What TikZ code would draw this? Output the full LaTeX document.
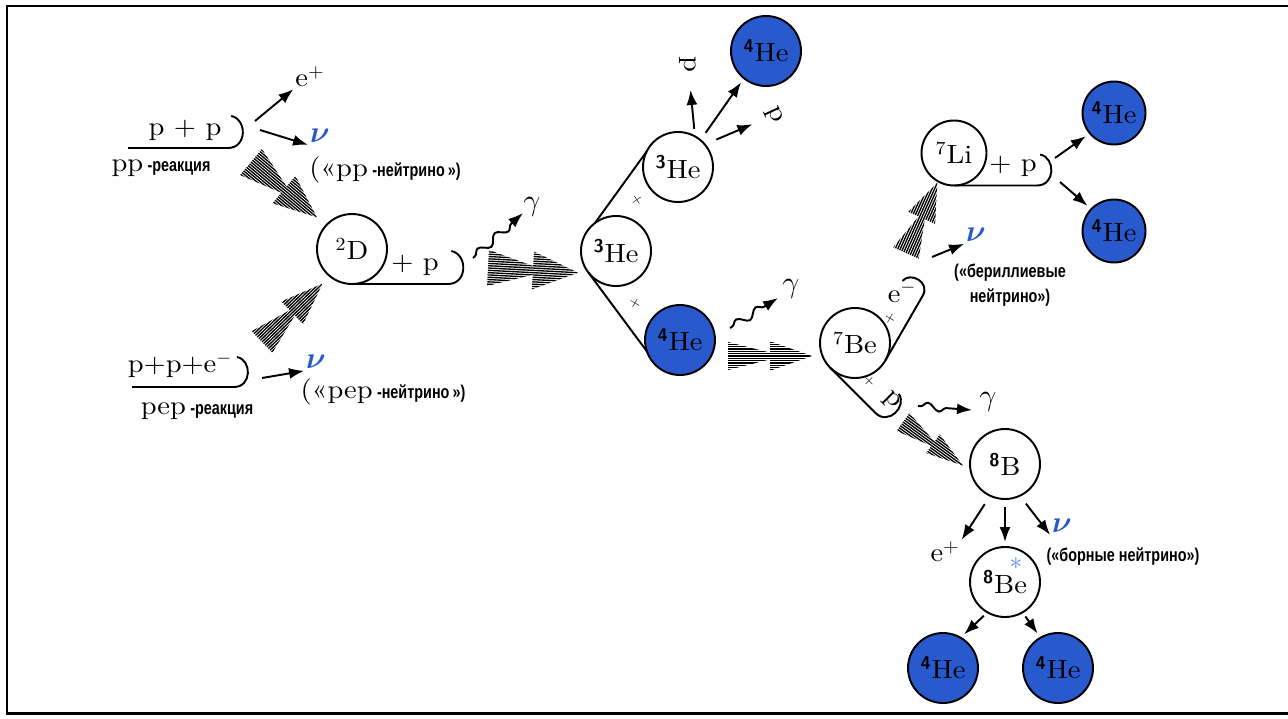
\documentclass[tikz,border=0pt]{standalone}
\usepackage{fontspec}
\usepackage{amsmath}
\setmainfont{lmroman10-regular.otf}[BoldFont=lmroman10-bold.otf,FakeStretch=1.08]
\usetikzlibrary{arrows.meta,decorations.pathmorphing}
\newfontfamily\rusfont[FakeStretch=0.78]{Liberation Sans}
\definecolor{heblue}{RGB}{40,90,205}
\definecolor{starblue}{RGB}{90,140,230}
\newcommand\rsmall{\fontsize{10.5}{14}\selectfont\rusfont\bfseries}
\newcommand\iso[2]{\textsuperscript{#1}#2}
\newcommand\isos[2]{\textsuperscript{\sffamily\bfseries #1}#2}
\newcommand\nub{{\fontsize{18}{18}\selectfont\textcolor{heblue}{$\boldsymbol{\nu}$}}}
\newcommand\gam{{\fontsize{17}{17}\selectfont$\gamma$}}
% hatched double arrow: start, angle, length, half width
\newcommand\hatcharrow[4]{%
  \begin{scope}[shift={#1},rotate=#2]
    \clip (0,-#4) -- (0.66*#3,0) -- (0,#4) -- cycle
          (0.5*#3,-1.05*#4) -- (#3,0) -- (0.5*#3,1.05*#4) -- cycle;
    \foreach \k in {-12,...,12}
      \draw[hatch] (0,\k*2.3) -- (#3,\k*2.3);
  \end{scope}}
% line with a hook at its end: start, angle, length, hook height
\newcommand\hookline[4]{%
  \begin{scope}[shift={#1},rotate=#2]
    \draw[hookln] (0,0) -- (#3,0) .. controls (#3+0.6*#4,0) and (#3+0.6*#4,-0.9*#4) .. (#3+0.1*#4,-#4);
  \end{scope}}
\tikzset{
  nuc/.style={circle,draw,line width=1.1pt,minimum size=14mm,inner sep=0pt,outer sep=0pt,
    font=\fontsize{15}{17}\selectfont},
  he/.style={nuc,fill=heblue},
  txt/.style={inner sep=1pt,font=\fontsize{15}{17}\selectfont},
  rus/.style={inner sep=1pt,font=\rsmall},
  plusmark/.style={inner sep=0pt,font=\fontsize{8}{9}\selectfont},
  arr/.style={-{Latex[length=3mm,width=2.2mm]},line width=1.1pt},
  wave/.style={arr,decorate,decoration={snake,amplitude=.8mm,segment length=4.6mm,
    pre length=.5mm,post length=3mm}},
  hatch/.style={line width=.75pt},
  hookln/.style={line width=1.1pt},
  frameline/.style={line width=1.7pt}
}
\begin{document}
\begin{tikzpicture}[x=0.2mm,y=-0.2mm]
\useasboundingbox (0,0) rectangle (1288,718);
\draw[frameline] (1290,6) -- (7,6) -- (7,713) -- (1290,713);

% pp-reaction
\node[txt] (pp) at (185,130) {p + p};
\hookline{(128,148)}{0}{100}{32}
\node[txt] (ppr) at (161,168) {pp\,{\rsmall -реакция}};
\coordinate (ppa) at (255,121);
\coordinate (ppb) at (260,130);
\node[txt] (ep1) at (310,77) {e\textsuperscript{+}};
\node[txt] (nu1) at (320,136) {\nub};
\node[txt] (ppnu) at (385,170) {(«pp\,{\rsmall -нейтрино\,»)}};
\draw[arr] (ppa) -- (ep1.south west);
\draw[arr] (ppb) -- (nu1.south west);

% pep-reaction
\node[txt] (pep) at (180,365) {p+p+e\textsuperscript{$-$}};
\hookline{(132,387)}{0}{102}{30}
\node[txt] (pepr) at (197,411) {pep\,{\rsmall -реакция}};
\coordinate (pepa) at (262,378);
\node[txt] (nu2) at (316,362) {\nub};
\node[txt] (pepnu) at (383,392) {(«pep\,{\rsmall -нейтрино\,»)}};
\draw[arr] (pepa) -- (nu2.south west);

\hatcharrow{(251,162)}{-40}{86}{17}
\hatcharrow{(262,342)}{44}{84}{15}

% deuterium
\node[nuc] (d2) at (352,249) {\iso{2}{D}};
\hookline{(d2.south)}{0}{96}{33}
\node[txt] (d2p) at (415,265) {+ p};
\coordinate (g1s) at (473,258);
\coordinate (g1e) at (523,213);
\node[txt] (g1) at (532,207) {\gam};
\draw[wave] (g1s) -- (g1e);
\hatcharrow{(488,268)}{-3}{90}{18}

% helium-3
\node[nuc] (he3a) at (616,251) {\isos{3}{He}};
\node[nuc] (he3b) at (678,167) {\isos{3}{He}};
\node[he] (he4a) at (680,340) {\isos{4}{He}};
\node[he] (he4t) at (766,51) {\isos{4}{He}};
\draw[hookln] (he3a.127) -- (he3b.154);
\draw[hookln] (he3a.218) -- (he4a.199);
\node[plusmark,rotate=35] (pl1) at (637,200) {+};
\node[plusmark,rotate=-30] (pl2) at (635,303) {+};
\node[txt,rotate=-90] (pt1) at (688,64) {p};
\node[txt,rotate=-65] (pt2) at (774,115) {p};
\draw[arr,shorten <=1.5mm,shorten >=3.2mm] (he3b.61) -- (pt1);
\draw[arr,shorten <=1.8mm,shorten >=1mm] (he3b.50) -- (he4t.231);
\draw[arr,shorten <=2.5mm,shorten >=2.6mm] (he3b.40) -- (pt2);
\coordinate (g2s) at (730,328);
\coordinate (g2e) at (778,298);
\node[txt] (g2) at (791,289) {\gam};
\draw[wave] (g2s) -- (g2e);
\hatcharrow{(728,356)}{0}{84}{14}

% beryllium-7
\node[nuc] (be7) at (855,343) {\iso{7}{Be}};
\hookline{(be7.-30)}{60}{75}{25}
\node[plusmark,rotate=60] (pl3) at (890,319) {+};
\node[txt] (em) at (902,292) {e\textsuperscript{$-$}};
\hookline{(be7.-135)}{-45}{64}{30}
\node[plusmark,rotate=-45] (pl4) at (869,381) {+};
\node[txt,rotate=-45] (bp) at (891,401) {p};
\coordinate (g3s) at (918,406);
\coordinate (g3e) at (972,410);
\node[txt] (g3) at (988,402) {\gam};
\draw[wave] (g3s) -- (g3e);
\hatcharrow{(906,253)}{66}{77}{14}
\hatcharrow{(903,422)}{-36}{74}{11}
\coordinate (bea) at (932,257);
\node[txt] (nu3) at (976,235) {\nub};
\node[rus,align=center] (berl) at (1010,285) {(«бериллиевые\\нейтрино»)};
\draw[arr] (bea) -- (nu3.south west);

% lithium-7
\node[nuc,minimum size=13mm] (li7) at (954,153) {\iso{7}{Li}};
\hookline{(li7.south)}{0}{83}{31}
\node[txt] (li7p) at (1013,166) {+ p};
\node[he,minimum size=12.6mm] (he4r1) at (1114,113) {\isos{4}{He}};
\node[he,minimum size=12.6mm] (he4r2) at (1114,231) {\isos{4}{He}};
\coordinate (lia) at (1055,158);
\coordinate (lib) at (1060,182);
\draw[arr,shorten >=1mm] (lia) -- (he4r1.-140);
\draw[arr,shorten >=1mm] (lib) -- (he4r2.136);

% boron-8
\node[nuc] (b8) at (1005,464) {\isos{8}{B}};
\node[txt] (ep2) at (945,552) {e\textsuperscript{+}};
\node[txt] (nu4) at (1062,526) {\nub};
\node[rus] (borl) at (1123,557) {(«борные нейтрино»)};
\node[nuc] (be8) at (1005,582) {\isos{8}{Be}};
\node[inner sep=0pt,text=starblue,font=\fontsize{14}{14}\selectfont] (ast) at (1016,564) {$\ast$};
\node[he] (he4b1) at (943,668) {\isos{4}{He}};
\node[he] (he4b2) at (1058,668) {\isos{4}{He}};
\draw[arr,shorten <=2mm] (b8.-115) -- (ep2.north east);
\draw[arr,shorten <=1.6mm,shorten >=1mm] (b8.south) -- (be8.north);
\draw[arr,shorten <=2mm] (b8.-65) -- (nu4.south west);
\draw[arr,shorten <=1mm,shorten >=1mm] (be8.-120) -- (he4b1.60);
\draw[arr,shorten <=1mm,shorten >=1mm] (be8.-60) -- (he4b2.120);
\end{tikzpicture}
\end{document}
